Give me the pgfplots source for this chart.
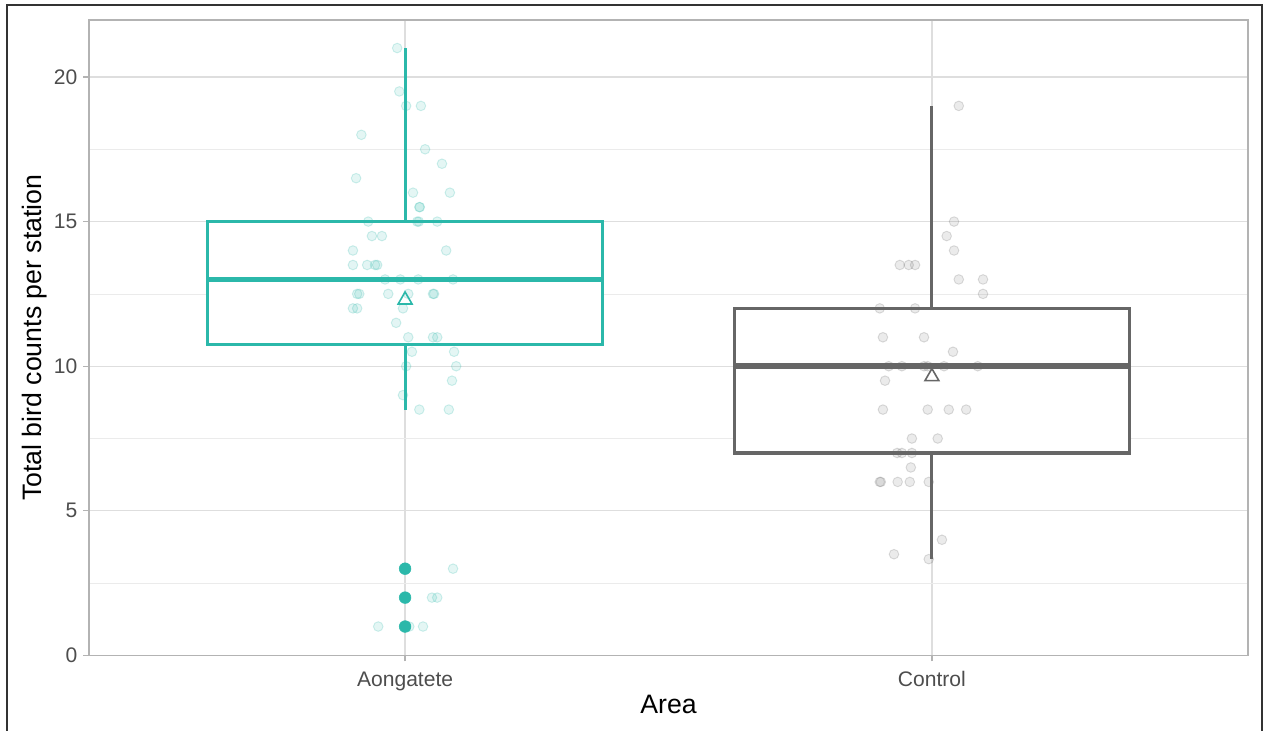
\documentclass[border=0pt]{standalone}
\usepackage{pgfplots}
\pgfplotsset{compat=1.18}
\usepackage{fontspec}
\setmainfont{Liberation Sans}
\definecolor{tealc}{RGB}{43,184,170}
\definecolor{greyc}{RGB}{102,102,102}
\definecolor{gridmaj}{RGB}{222,222,222}
\definecolor{gridmin}{RGB}{235,235,235}
\definecolor{bordc}{RGB}{179,179,179}
\definecolor{tickc}{RGB}{77,77,77}
\definecolor{framec}{RGB}{51,51,51}

\pgfplotstableread{
x y
0.985 21
0.989 19.5
1.002 19
1.030 19
0.917 18
1.038 17.5
1.070 17
0.907 16.5
1.015 16
1.085 16
1.027 15.5
1.028 15.5
0.930 15
1.023 15
1.026 15
1.061 15
0.937 14.5
0.956 14.5
0.901 14
1.078 14
0.901 13.5
0.928 13.5
0.943 13.5
0.947 13.5
0.962 13
0.991 13
1.025 13
1.091 13
0.909 12.5
0.913 12.5
0.968 12.5
1.006 12.5
1.053 12.5
1.055 12.5
0.901 12
0.909 12
0.996 12
0.983 11.5
1.006 11
1.053 11
1.061 11
1.013 10.5
1.093 10.5
1.002 10
1.097 10
1.089 9.5
0.996 9
1.027 8.5
1.083 8.5
1.091 3
1.051 2
1.061 2
0.949 1
1.008 1
1.034 1
}\aongatete

\pgfplotstableread{
x y
2.051 19
2.042 15
2.028 14.5
2.042 14
1.939 13.5
1.956 13.5
1.968 13.5
2.051 13
2.097 13
2.097 12.5
1.901 12
1.968 12
1.907 11
1.985 11
2.040 10.5
1.918 10
1.943 10
1.985 10
1.992 10
2.023 10
2.087 10
1.911 9.5
1.907 8.5
1.992 8.5
2.032 8.5
2.065 8.5
1.962 7.5
2.011 7.5
1.934 7
1.943 7
1.962 7
1.960 6.5
1.901 6
1.903 6
1.935 6
1.958 6
1.994 6
2.019 4
1.928 3.5
1.994 3.33
}\control

\begin{document}
\begin{tikzpicture}
\useasboundingbox (-66.75pt,-56.6pt) rectangle (880.5pt,491.6pt);
\begin{axis}[
  at={(0,0)}, anchor=south west,
  scale only axis,
  width=869.25pt, height=476.6pt,
  xmin=0.4, xmax=2.6, ymin=0, ymax=21.97,
  xtick={1,2}, xticklabels={Aongatete,Control},
  ytick={0,5,10,15,20},
  minor ytick={2.5,7.5,12.5,17.5},
  xmajorgrids, ymajorgrids, yminorgrids,
  major grid style={color=gridmaj, line width=0.9pt},
  minor grid style={color=gridmin, line width=0.6pt},
  axis line style={color=bordc, line width=1.1pt},
  tick align=outside,
  major tick length=4.5pt,
  minor tick length=0pt,
  tick style={color=bordc, line width=0.9pt},
  xtick pos=bottom, ytick pos=left,
  /pgf/number format/assume math mode=true,
  ticklabel style={font=\fontsize{15.8}{18}\selectfont, text=tickc, inner sep=0pt},
  xticklabel style={anchor=north, yshift=-7.5pt},
  yticklabel style={anchor=east, xshift=-4pt},
  xlabel={Area}, ylabel={Total bird counts per station},
  label style={font=\fontsize{20}{24}\selectfont, text=black, inner sep=0pt},
  xlabel style={at={(axis description cs:0.5,-0.0617)}, anchor=north},
  ylabel style={at={(axis description cs:-0.0414,0.5)}, anchor=base, rotate=0},
  clip=false,
]
% Aongatete box
\addplot[draw=tealc, line width=2.3pt] coordinates {(1,15) (1,21)};
\addplot[draw=tealc, line width=2.3pt] coordinates {(1,10.75) (1,8.5)};
\addplot[draw=tealc, fill=white, line width=2.4pt, line join=miter]
  coordinates {(0.625,10.75) (1.375,10.75) (1.375,15) (0.625,15) (0.625,10.75)} -- cycle;
% Control box
\addplot[draw=greyc, line width=2.3pt] coordinates {(2,12) (2,19)};
\addplot[draw=greyc, line width=2.3pt] coordinates {(2,7) (2,3.33)};
\addplot[draw=greyc, fill=white, line width=2.4pt, line join=miter]
  coordinates {(1.625,7) (2.375,7) (2.375,12) (1.625,12) (1.625,7)} -- cycle;
% outliers
\addplot[only marks, mark=*, mark size=4.4pt, color=tealc, fill=tealc]
  coordinates {(1,3) (1,2) (1,1)};
% jittered points
\addplot[only marks, mark=*, mark size=3.6pt,
  mark options={draw=tealc, fill=tealc, fill opacity=0.13, draw opacity=0.22, line width=0.7pt}]
  table[x=x,y=y] {\aongatete};
\addplot[only marks, mark=*, mark size=3.6pt,
  mark options={draw=greyc, fill=greyc, fill opacity=0.13, draw opacity=0.22, line width=0.7pt}]
  table[x=x,y=y] {\control};
% medians
\addplot[draw=none, fill=tealc]
  coordinates {(0.625,12.905) (1.375,12.905) (1.375,13.095) (0.625,13.095)} -- cycle;
\addplot[draw=none, fill=greyc]
  coordinates {(1.625,9.905) (2.375,9.905) (2.375,10.095) (1.625,10.095)} -- cycle;
% means
\addplot[only marks, mark=triangle, mark size=6pt,
  mark options={draw=tealc, fill=none, line width=1.2pt}]
  coordinates {(1,12.29)};
\addplot[only marks, mark=triangle, mark size=6pt,
  mark options={draw=greyc, fill=none, line width=1.2pt}]
  coordinates {(2,9.64)};
\end{axis}
\draw[framec, line width=1.5pt] (-61.5pt,-80pt) rectangle (879.75pt,487.9pt);
\end{tikzpicture}
\end{document}
